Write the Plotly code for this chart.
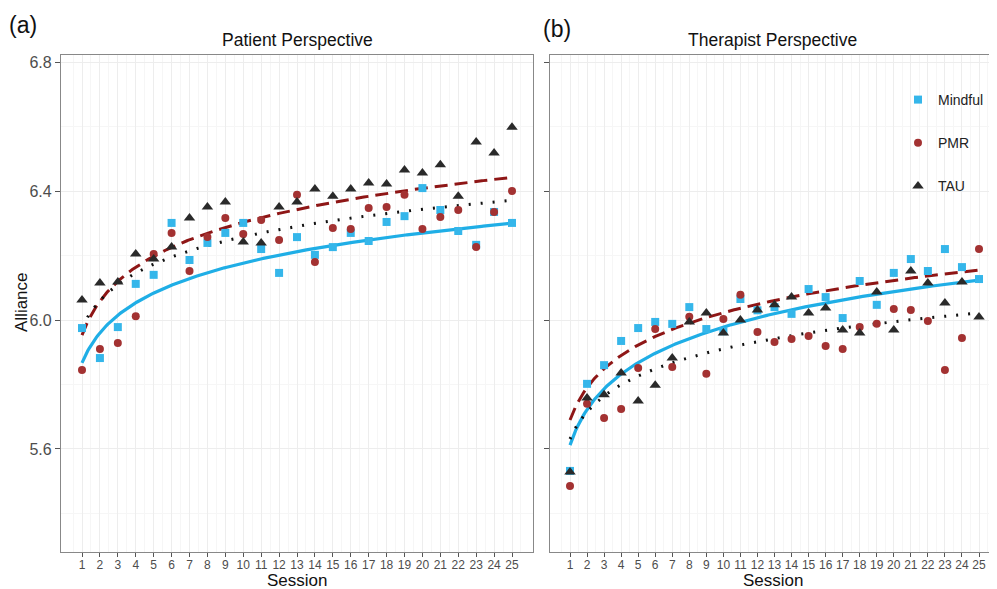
import numpy as np
import plotly.graph_objects as go

PAGE_W, PAGE_H = 997, 589
OFF = 8  # default page margin around the plot div
W, H = PAGE_W - OFF, PAGE_H - OFF

sessions = list(range(1, 26))
groups = ["Mindful", "PMR", "TAU"]

# Patient perspective (panel a) observed means
patient_mindful = [5.975, 5.882, 5.978, 6.112, 6.140, 6.301, 6.186, 6.239, 6.270, 6.301,
                   6.220, 6.146, 6.257, 6.202, 6.226, 6.270, 6.245, 6.304, 6.322, 6.409,
                   6.341, 6.276, 6.233, 6.335, 6.301]
patient_pmr = [5.845, 5.910, 5.929, 6.012, 6.205, 6.270, 6.152, 6.257, 6.316, 6.267,
               6.310, 6.248, 6.388, 6.180, 6.285, 6.282, 6.347, 6.350, 6.388, 6.282,
               6.319, 6.341, 6.226, 6.335, 6.400]
patient_tau = [6.062, 6.115, 6.118, 6.205, 6.189, 6.226, 6.316, 6.350, 6.366, 6.242,
               6.239, 6.350, 6.366, 6.406, 6.384, 6.406, 6.425, 6.422, 6.465, 6.456,
               6.481, 6.384, 6.552, 6.518, 6.598]

# Therapist perspective (panel b) observed means
therapist_mindful = [5.532, 5.802, 5.860, 5.935, 5.975, 5.994, 5.988, 6.040, 5.972, 5.965,
                     6.065, 6.030, 6.040, 6.019, 6.096, 6.071, 6.006, 6.121, 6.047, 6.146,
                     6.189, 6.152, 6.220, 6.164, 6.127]
therapist_pmr = [5.485, 5.740, 5.696, 5.724, 5.851, 5.972, 5.854, 6.010, 5.833, 6.003,
                 6.078, 5.963, 5.932, 5.941, 5.950, 5.919, 5.910, 5.978, 5.988, 6.034,
                 6.031, 5.997, 5.845, 5.944, 6.220]
therapist_tau = [5.529, 5.758, 5.768, 5.836, 5.749, 5.798, 5.882, 5.994, 6.022, 5.960,
                 6.000, 6.031, 6.047, 6.071, 6.022, 6.037, 5.969, 5.960, 6.087, 5.969,
                 6.152, 6.115, 6.053, 6.118, 6.009]

# Fitted log-growth curves: alliance = intercept + slope * ln(session)
patient_fit_intercept = [5.867, 5.953, 5.975]
patient_fit_slope = [0.1345, 0.152, 0.123]
therapist_fit_intercept = [5.612, 5.690, 5.631]
therapist_fit_slope = [0.159, 0.1445, 0.1215]

y_ticks = [5.6, 6.0, 6.4, 6.8]
y_tick_labels = ["5.6", "6.0", "6.4", "6.8"]
y_minor = [5.4, 5.8, 6.2, 6.6]

point_colors = {"Mindful": "#35B6EA", "PMR": "#A33232", "TAU": "#2A2A2A"}
line_colors = {"Mindful": "#1FAEE6", "PMR": "#8E1616", "TAU": "#111111"}
symbols = {"Mindful": "square", "PMR": "circle", "TAU": "triangle-up"}
sizes = {"Mindful": 8, "PMR": 8, "TAU": 10}
dashes = {"Mindful": "solid", "PMR": "13px,7px", "TAU": "2px,10px"}
widths = {"Mindful": 3.2, "PMR": 3, "TAU": 3}

FONT = "Liberation Sans, Arial, Helvetica, sans-serif"

fig = go.Figure()

panels = [
    ("x", "y", [patient_mindful, patient_pmr, patient_tau], patient_fit_intercept, patient_fit_slope),
    ("x2", "y2", [therapist_mindful, therapist_pmr, therapist_tau], therapist_fit_intercept, therapist_fit_slope),
]

s_fine = np.linspace(1, 25, 300)
for pi, (xa, ya, series, icpt, slope) in enumerate(panels):
    for gi, g in enumerate(groups):
        fig.add_trace(go.Scatter(
            x=s_fine, y=icpt[gi] + slope[gi] * np.log(s_fine),
            mode="lines", xaxis=xa, yaxis=ya, showlegend=False, hoverinfo="skip",
            line=dict(color=line_colors[g], width=widths[g], dash=dashes[g]),
        ))
    for gi, g in enumerate(groups):
        fig.add_trace(go.Scatter(
            x=sessions, y=series[gi], mode="markers", xaxis=xa, yaxis=ya,
            name=g, legendgroup=g, showlegend=(pi == 1),
            marker=dict(symbol=symbols[g], size=sizes[g], color=point_colors[g],
                        line=dict(width=0)),
        ))


# Layout geometry (page pixels -> paper fractions)
def px_x(p):
    return (p - OFF) / W


def px_y(p):
    return 1 - (p - OFF) / H


y_range = [5.2806, 6.8217]
common_y = dict(
    range=y_range, tickvals=y_ticks, ticktext=y_tick_labels, ticks="outside", ticklen=5,
    tickcolor="#555555", tickfont=dict(size=16, color="#4D4D4D", family=FONT),
    showgrid=True, gridcolor="#EDEDED", gridwidth=1,
    minor=dict(tickvals=y_minor, showgrid=True, gridcolor="#F6F6F6", gridwidth=1, ticks=""),
    zeroline=False, showline=True, linecolor="#888888", linewidth=1.2, automargin=False,
    domain=[px_y(552), px_y(55)],
)
common_x = dict(
    tickvals=sessions, ticktext=[str(s) for s in sessions], ticks="outside", ticklen=4,
    tickcolor="#555555", tickfont=dict(size=12, color="#4D4D4D", family=FONT),
    ticklabelstandoff=-3,
    showgrid=True, gridcolor="#EDEDED", gridwidth=1,
    minor=dict(tickvals=[s + 0.5 for s in range(0, 26)], showgrid=True, gridcolor="#F6F6F6",
               gridwidth=1, ticks=""),
    zeroline=False, showline=True, linecolor="#888888", linewidth=1.2, automargin=False,
)

fig.update_layout(
    width=W, height=H,
    margin=dict(l=0, r=0, t=0, b=0),
    paper_bgcolor="white", plot_bgcolor="white",
    font=dict(family=FONT, color="#222222"),
    xaxis=dict(common_x, range=[-0.172, 26.172], domain=[px_x(61), px_x(533)], mirror=True, anchor="y"),
    yaxis=dict(common_y, mirror=True, anchor="x"),
    xaxis2=dict(common_x, range=[-0.174, 25 + (PAGE_W - 979) / 17.04],
                domain=[px_x(550), 1.0], mirror=True, anchor="y2"),
    yaxis2=dict(common_y, showticklabels=False, mirror=False, anchor="x2"),
    legend=dict(x=px_x(898), y=px_y(84), xanchor="left", yanchor="top",
                font=dict(size=14, color="#222222", family=FONT),
                bgcolor="rgba(255,255,255,0)", tracegroupgap=22),
    showlegend=True,
)

annots = [
    dict(text="(a)", x=px_x(23), y=px_y(25), font=dict(size=23, color="#111111")),
    dict(text="(b)", x=px_x(557), y=px_y(29), font=dict(size=23, color="#111111")),
    dict(text="Patient Perspective", x=px_x(297), y=px_y(40), font=dict(size=17.5, color="#111111")),
    dict(text="Therapist Perspective", x=px_x(772), y=px_y(40), font=dict(size=17.5, color="#111111")),
    dict(text="Session", x=px_x(297), y=px_y(580), font=dict(size=17, color="#111111")),
    dict(text="Session", x=px_x(773), y=px_y(580), font=dict(size=17, color="#111111")),
    dict(text="Alliance", x=px_x(21), y=px_y(302), textangle=-90, font=dict(size=17, color="#111111")),
]
for a in annots:
    a.update(xref="paper", yref="paper", showarrow=False, xanchor="center", yanchor="middle")
    a["font"]["family"] = FONT
fig.update_layout(annotations=annots)

fig.write_html("out.html")
